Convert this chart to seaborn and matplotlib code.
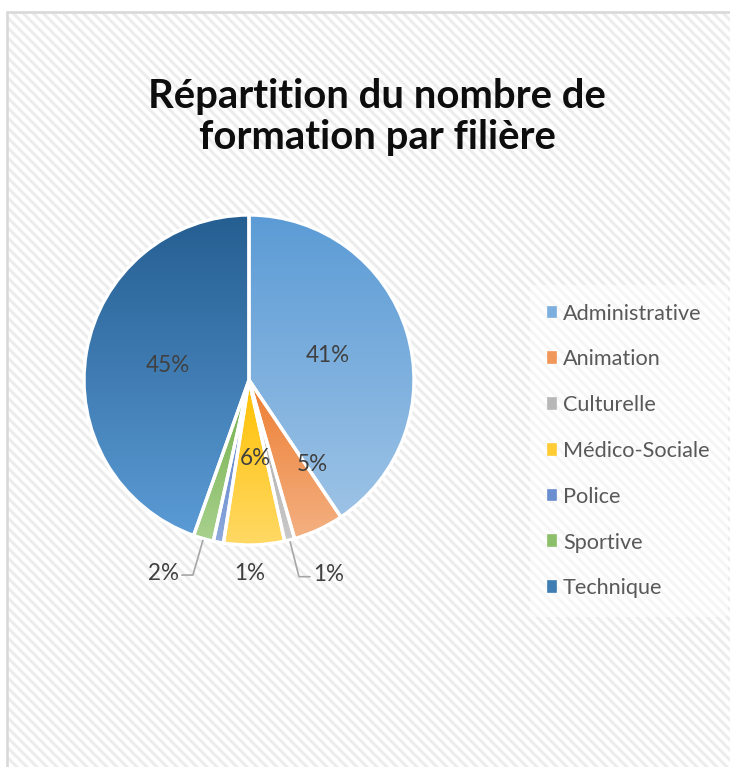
import numpy as np
import matplotlib.pyplot as plt
import matplotlib.patches as mpatches
import seaborn as sns
from matplotlib.colors import to_rgb

##############################################
#                 DATA
##############################################
filieres = ["Administrative", "Animation", "Culturelle", "Médico-Sociale",
            "Police", "Sportive", "Technique"]
nb_formations = [41, 5, 1, 6, 1, 2, 45]

# gradient colours for each slice (top -> bottom)
couleurs_haut = ["#5b9bd5", "#ed7d31", "#a5a5a5", "#ffc000", "#4472c4", "#70ad47", "#255e91"]
couleurs_bas = ["#9dc3e6", "#f4b183", "#c9c9c9", "#ffd966", "#8faadc", "#a9d18e", "#5b9bd5"]

# label placement: fraction of radius, angle shift (deg), leader line or not
label_dist = [0.5, 0.64, 1.23, 0.48, 1.17, 1.23, 0.5]
label_shift = [0, 12, 0, 2.7, 10.8, 0, 0]
label_leader = [False, False, True, False, False, True, False]

titre = "Répartition du nombre de\nformation par filière"

##############################################
#                 PLOT
##############################################
sns.set_theme(style="white")
plt.rcParams['font.family'] = ['Lato', 'DejaVu Sans']
plt.rcParams['hatch.linewidth'] = 1.8

W, H, DPI = 730, 767, 120
fig = plt.figure(figsize=(W / DPI, H / DPI), dpi=DPI, facecolor="white")
ax = fig.add_axes([0, 0, 1, 1])

# hatched chart area background + thin border
bg = mpatches.Rectangle((7, -20), W, H - 12 + 20, facecolor="white",
                        edgecolor="#ececec", hatch="\\\\\\\\", linewidth=0, zorder=0)
ax.add_patch(bg)
ax.plot([7, 7], [-5, H - 12], color="#d9d9d9", lw=1.6, zorder=1)
ax.plot([7, W + 5], [H - 12, H - 12], color="#d9d9d9", lw=1.6, zorder=1)

cx, cy, R = 249, H - 380, 165
wedges, _ = ax.pie(nb_formations, center=(cx, cy), radius=R, startangle=90,
                   counterclock=False, frame=True,
                   wedgeprops=dict(edgecolor="white", linewidth=2.0, zorder=3))

# vertical gradient fill clipped to each wedge
grad = np.linspace(0, 1, 256)[:, None]
for w, c1, c2 in zip(wedges, couleurs_haut, couleurs_bas):
    a, b = np.array(to_rgb(c1)), np.array(to_rgb(c2))
    img = (a[None, None, :] * (1 - grad[:, :, None]) + b[None, None, :] * grad[:, :, None])
    bb = w.get_path().get_extents()
    im = ax.imshow(img, extent=[bb.x0, bb.x1, bb.y0, bb.y1], origin="upper",
                   aspect="auto", zorder=2, interpolation="bilinear")
    im.set_clip_path(w)
    w.set_facecolor("none")
ax.set_xlim(0, W)
ax.set_ylim(0, H)
ax.axis("off")

total = sum(nb_formations)
for w, v, d, s, lead in zip(wedges, nb_formations, label_dist, label_shift, label_leader):
    mid = np.deg2rad((w.theta1 + w.theta2) / 2 + s)
    txt = f"{v / total * 100:.0f}%"
    if lead:
        x0, y0 = cx + (R + 2) * np.cos(mid), cy + (R + 2) * np.sin(mid)
        xk, yk = cx + d * R * np.cos(mid), cy + d * R * np.sin(mid)
        sgn = 1 if np.cos(mid) > 0 else -1
        xe = xk + sgn * 11
        ax.plot([x0, xk, xe], [y0, yk, yk], color="#a6a6a6", lw=1.0, zorder=4)
        ax.text(xe + sgn * 3, yk + 2, txt, ha="left" if sgn > 0 else "right",
                va="center", fontsize=13.5, color="#404040", zorder=5)
    else:
        ax.text(cx + d * R * np.cos(mid), cy + d * R * np.sin(mid), txt,
                ha="center", va="center", fontsize=13.5, color="#404040", zorder=5)

fig.text(377 / W, 1 - 117 / H, titre, ha="center", va="center",
         fontsize=24, fontweight="bold", color="#0d0d0d", linespacing=1.15)

handles = [mpatches.Patch(color=tuple((np.array(to_rgb(a)) + np.array(to_rgb(b))) / 2),
                          label=f) for f, a, b in zip(filieres, couleurs_haut, couleurs_bas)]
leg = fig.legend(handles=handles, loc="center left", bbox_to_anchor=(519 / W, 1 - 451 / H),
                 fontsize=13, frameon=True, framealpha=0.5, edgecolor="none",
                 facecolor="white", handlelength=0.38, handleheight=0.38,
                 handletextpad=0.3, labelspacing=1.19, borderpad=0.85)
for t in leg.get_texts():
    t.set_color("#595959")

plt.savefig("out.png", dpi=DPI, facecolor="white")
plt.close()
